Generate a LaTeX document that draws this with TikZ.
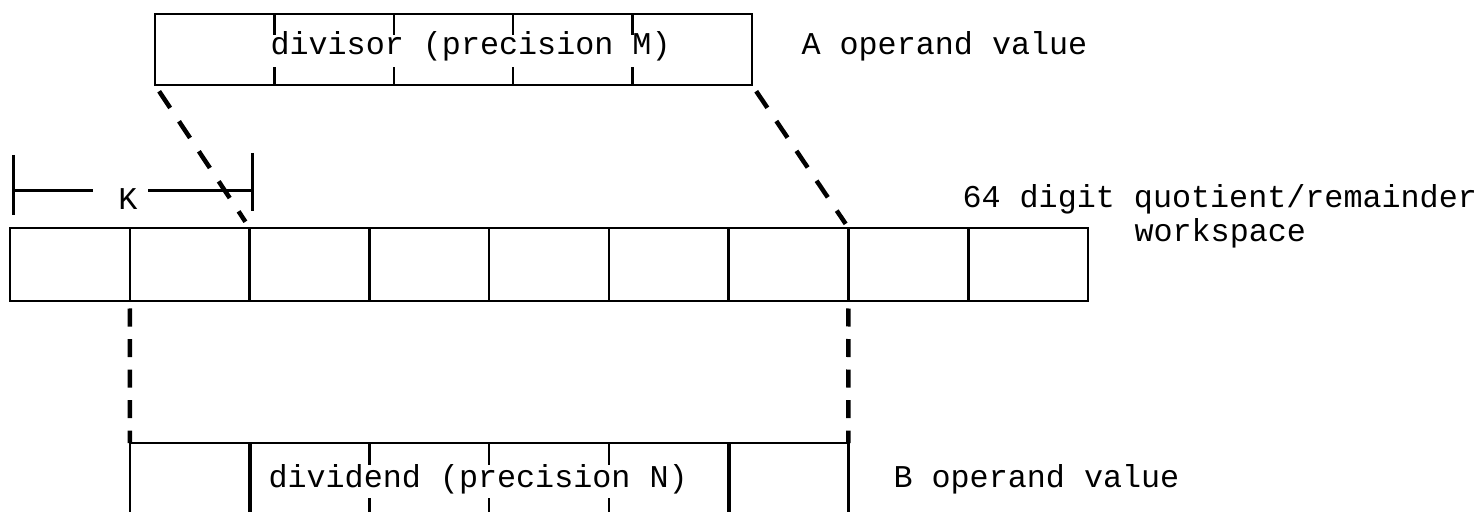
\documentclass[tikz,border=0pt]{standalone}
\usepackage{fontspec}
\setmonofont{Liberation Mono}
\usetikzlibrary{positioning}

\begin{document}
\begin{tikzpicture}[
    x=0.4pt, y=-0.4pt,
    every node/.style={font=\ttfamily\fontsize{12.7}{15}\selectfont},
    cell/.style={draw, line width=1pt, minimum width=47.91pt, minimum height=29.2pt, inner sep=0pt, outer sep=0pt},
    opbox/.style={draw, line width=1pt, inner sep=0pt, outer sep=0pt},
    lbl/.style={anchor=base west, inner sep=0pt},
    mapline/.style={line width=1.8pt, dash pattern=on 8pt off 6.4pt},
    dropline/.style={line width=1.8pt, dash pattern=on 7.2pt off 5pt}
]
\useasboundingbox (0,0) rectangle (1479,512);
\clip (0,0) rectangle (1479,512);

% workspace row
\foreach \i in {1,...,9}
    \node[cell] (w\i) at ({10+119.78*(\i-0.5)},264.5) {};

% divisor (A operand)
\node[opbox, minimum width=238.8pt, minimum height=28.4pt] (divisor) at (453.5,49.5) {};
\foreach \k in {1,...,4} {
    \draw[line width=1pt] ([xshift=\k*47.76pt]divisor.north west) -- ++(0,21);
    \draw[line width=1pt] ([xshift=\k*47.76pt]divisor.south west) -- ++(0,-18);
}
\node[lbl] (divtxt) at (270,55) {divisor (precision M)};
\node[lbl] (aop) at (801,55) {A operand value};

% dividend (B operand)
\node[opbox, anchor=north west, minimum width=287.4pt, minimum height=29.2pt] (dividend) at (129.8,443) {};
\foreach \j in {2,6}
    \draw[line width=1.6pt] (w\j.east |- dividend.north) -- (w\j.east |- dividend.south);
\foreach \j in {3,4,5} {
    \draw[line width=1pt] (w\j.east |- dividend.north) -- ++(0,22);
    \draw[line width=1pt] (w\j.east |- dividend.south) -- ++(0,-18);
}
\node[lbl] (dvdtxt) at (268,487) {dividend (precision N)};
\node[lbl] (bop) at (893,487) {B operand value};

% workspace label
\node[lbl] (wsl1) at (962,208) {64 digit quotient/remainder};
\node[lbl] (wsl2) at (1134,242) {workspace};

% K offset
\node[anchor=base, inner sep=0pt] (K) at (128,210) {K};
\draw[line width=1.2pt] (13,155) -- (13,215);
\draw[line width=1.2pt] (252,153) -- (252,211);
\draw[line width=1.2pt] (13,191) -- (93,191);
\draw[line width=1.2pt] (148,191) -- (252,191);

% mapping lines
\draw[mapline, shorten <=3pt, shorten >=3pt] (divisor.south west) -- (w2.north east);
\draw[mapline, shorten <=3pt, shorten >=2pt] (divisor.south east) -- (w7.north east);
\draw[dropline, shorten <=3pt] (w1.south east) -- (dividend.north west);
\draw[dropline, shorten <=3pt] (w7.south east) -- (dividend.north east);

\end{tikzpicture}
\end{document}
